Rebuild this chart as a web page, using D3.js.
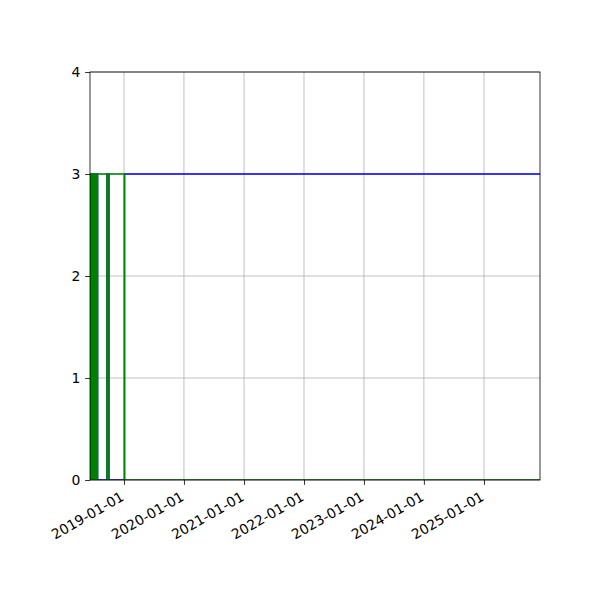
<!DOCTYPE html>
<html>
<head>
<meta charset="utf-8">
<script src="https://cdn.jsdelivr.net/npm/d3@7"></script>
<style>
  body { margin: 0; background: #fff; }
  text { font-family: "DejaVu Sans", sans-serif; }
</style>
</head>
<body>
<div id="chart"></div>
<script>
// sample dates, each value holds until the next date
const dates = [
  "2018-06-08", "2018-06-12", "2018-06-15", "2018-06-18", "2018-06-21",
  "2018-06-24", "2018-06-27", "2018-06-30", "2018-07-03", "2018-07-06",
  "2018-07-09", "2018-07-12", "2018-07-15", "2018-07-18", "2018-07-21",
  "2018-07-24", "2018-07-27", "2018-09-19", "2018-10-01", "2019-01-04",
  "2025-12-08"
];
const blueValues = [3, 0, 3, 0, 3, 0, 3, 0, 3, 0, 3, 0, 3, 0, 3, 0, 0, 3, 0, 3, 3];
const greenValues = [0, 3, 0, 3, 0, 3, 0, 3, 0, 3, 0, 3, 0, 3, 0, 3, 3, 0, 3, 0, 0];
const xTickDates = ["2019-01-01", "2020-01-01", "2021-01-01", "2022-01-01", "2023-01-01", "2024-01-01", "2025-01-01"];
const yTicks = [0, 1, 2, 3, 4];

const width = 600, height = 600;
const margin = { left: 90, right: 60, top: 72, bottom: 120 };
const fontPx = 13.9;
const tickLen = 4.86;

const parse = d3.utcParse("%Y-%m-%d");
const fmt = d3.utcFormat("%Y-%m-%d");

const svg = d3.select("#chart").append("svg")
  .attr("width", width)
  .attr("height", height);

const x = d3.scaleUtc()
  .domain(d3.extent(dates, parse))
  .range([margin.left, width - margin.right]);
const y = d3.scaleLinear()
  .domain([0, 4])
  .range([height - margin.bottom, margin.top]);

// grid
svg.append("g")
  .selectAll("line")
  .data(xTickDates.map(parse))
  .join("line")
  .attr("x1", d => x(d)).attr("x2", d => x(d))
  .attr("y1", y(0)).attr("y2", y(4))
  .attr("stroke", "#b0b0b0").attr("stroke-width", 0.8);
svg.append("g")
  .selectAll("line")
  .data(yTicks)
  .join("line")
  .attr("x1", x.range()[0]).attr("x2", x.range()[1])
  .attr("y1", d => y(d)).attr("y2", d => y(d))
  .attr("stroke", "#b0b0b0").attr("stroke-width", 0.8);

svg.append("clipPath").attr("id", "clip")
  .append("rect")
  .attr("x", margin.left).attr("y", margin.top - 1)
  .attr("width", width - margin.left - margin.right)
  .attr("height", height - margin.top - margin.bottom + 1);

const line = (values) => d3.line()
  .x((d, i) => x(parse(dates[i])))
  .y((d, i) => y(values[i]))
  .curve(d3.curveStepAfter)(dates);

const lines = svg.append("g").attr("clip-path", "url(#clip)");
lines.append("path")
  .attr("d", line(blueValues))
  .attr("fill", "none").attr("stroke", "#0000ff").attr("stroke-width", 1.5);
lines.append("path")
  .attr("d", line(greenValues))
  .attr("fill", "none").attr("stroke", "#008000").attr("stroke-width", 1.5);

// axes
const xAxis = d3.axisBottom(x)
  .tickValues(xTickDates.map(parse))
  .tickFormat(fmt)
  .tickSize(tickLen)
  .tickPadding(0);
const gx = svg.append("g")
  .attr("transform", `translate(0,${y(0)})`)
  .call(xAxis);
gx.select(".domain").remove();
gx.selectAll(".tick line").attr("stroke", "#000").attr("stroke-width", 0.8);
gx.selectAll(".tick text")
  .attr("font-size", fontPx)
  .attr("fill", "#000")
  .attr("text-anchor", "end")
  .attr("y", null).attr("dy", null)
  .attr("transform", "translate(0.5,19.5) rotate(-30)");

const yAxis = d3.axisLeft(y)
  .tickValues(yTicks)
  .tickFormat(d3.format("d"))
  .tickSize(tickLen)
  .tickPadding(4.86);
const gy = svg.append("g")
  .attr("transform", `translate(${margin.left},0)`)
  .call(yAxis);
gy.select(".domain").remove();
gy.selectAll(".tick line").attr("stroke", "#000").attr("stroke-width", 0.8);
gy.selectAll(".tick text").attr("font-size", fontPx).attr("fill", "#000");

// spines
svg.append("rect")
  .attr("x", margin.left).attr("y", margin.top)
  .attr("width", width - margin.left - margin.right)
  .attr("height", height - margin.top - margin.bottom)
  .attr("fill", "none").attr("stroke", "#000").attr("stroke-width", 0.8);
</script>
</body>
</html>
